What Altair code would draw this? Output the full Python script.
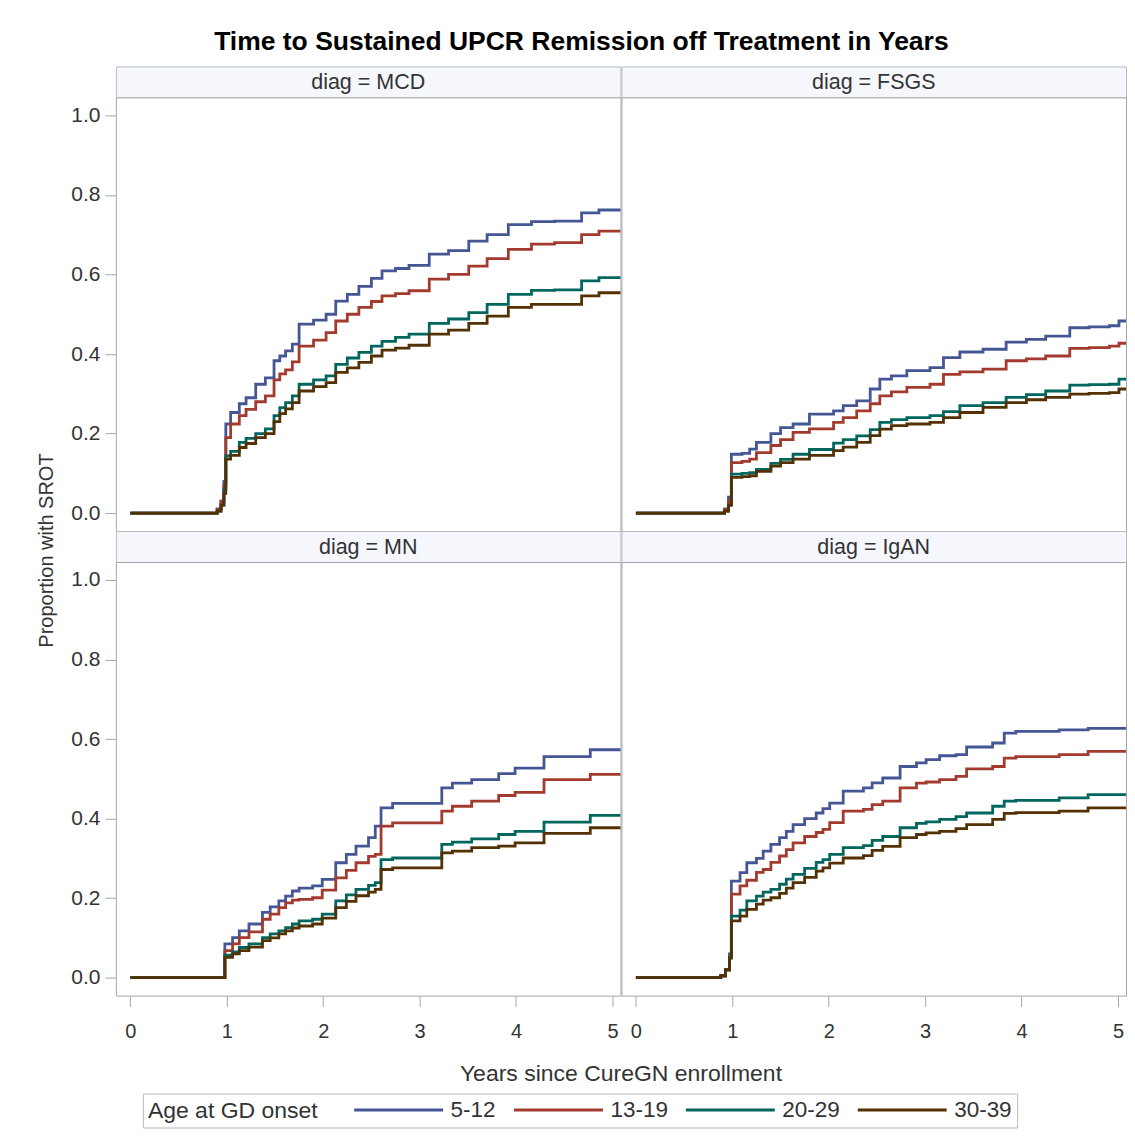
import altair as alt
import pandas as pd

GROUPS = ["5-12", "13-19", "20-29", "30-39"]
COLORS = ["#445694", "#A23A2E", "#01665E", "#543005"]

# ---- MCD ----
MCD_T = [0, 0.90, 0.94, 0.97, 0.99, 1.04, 1.13, 1.20, 1.30, 1.40, 1.49, 1.55, 1.61, 1.68, 1.75,
         1.90, 2.03, 2.13, 2.25, 2.37, 2.50, 2.61, 2.75, 2.89, 3.10, 3.30, 3.51, 3.70, 3.92, 4.16,
         4.40, 4.58, 4.68, 4.86, 5.10]
MCD_512 = [0, .01, .03, .08, .224, .253, .275, .290, .324, .340, .383, .395, .408, .425, .475,
           .485, .500, .533, .550, .570, .590, .609, .615, .623, .651, .660, .684, .700, .725, .733,
           .734, .734, .755, .762, .762]
MCD_1319 = [0, .01, .03, .07, .190, .224, .245, .261, .280, .295, .335, .350, .360, .380, .420,
            .435, .454, .483, .500, .517, .532, .546, .552, .559, .588, .600, .621, .640, .663, .676,
            .680, .680, .700, .709, .709]
MCD_2029 = [0, .005, .02, .06, .144, .155, .178, .188, .200, .212, .245, .265, .278, .295, .324,
            .335, .345, .374, .390, .404, .420, .432, .442, .450, .477, .488, .504, .525, .550, .560,
            .561, .561, .584, .592, .592]
MCD_3039 = [0, .005, .02, .05, .136, .145, .165, .175, .190, .200, .230, .250, .262, .278, .307,
            .318, .328, .354, .365, .379, .395, .410, .415, .422, .450, .460, .477, .495, .517, .525,
            .525, .525, .546, .554, .554]

# ---- FSGS ----
FSGS_T = [0, 0.92, 0.96, 0.99, 1.10, 1.18, 1.25, 1.40, 1.50, 1.63, 1.80, 2.05, 2.15, 2.29, 2.43,
          2.53, 2.65, 2.81, 3.05, 3.19, 3.36, 3.60, 3.84, 4.05, 4.25, 4.50, 4.70, 4.91, 5.01, 5.10]
FSGS_512 = [0, .01, .04, .148, .150, .161, .178, .200, .215, .224, .249, .257, .270, .282, .312,
            .337, .345, .358, .366, .391, .405, .412, .430, .437, .445, .466, .468, .471, .483, .483]
FSGS_1319 = [0, .01, .03, .127, .130, .136, .152, .170, .185, .203, .212, .228, .240, .257, .275,
             .295, .305, .316, .324, .349, .355, .362, .383, .388, .395, .414, .416, .420, .427, .427]
FSGS_2029 = [0, .005, .02, .098, .100, .102, .110, .125, .135, .148, .160, .176, .185, .194, .210,
             .228, .235, .240, .245, .255, .270, .278, .291, .298, .307, .322, .323, .324, .337, .337]
FSGS_3039 = [0, .005, .02, .090, .092, .094, .105, .118, .127, .136, .145, .157, .166, .178, .195,
             .211, .220, .224, .228, .240, .253, .266, .278, .285, .291, .299, .301, .303, .312, .312]

# ---- MN ----
MN_T = [0, 0.95, 0.98, 1.06, 1.13, 1.23, 1.37, 1.45, 1.54, 1.61, 1.68, 1.75, 1.89, 1.99, 2.13,
        2.24, 2.34, 2.47, 2.54, 2.60, 2.72, 3.23, 3.34, 3.54, 3.82, 3.99, 4.29, 4.77, 5.10]
MN_512 = [0, 0, .085, .101, .118, .135, .164, .178, .193, .205, .218, .225, .231, .247, .289,
          .310, .331, .352, .381, .427, .438, .477, .489, .498, .513, .527, .556, .573, .573]
MN_1319 = [0, 0, .068, .085, .101, .115, .147, .160, .176, .188, .195, .197, .201, .220, .251,
           .270, .289, .305, .310, .381, .389, .419, .431, .444, .458, .466, .498, .511, .511]
MN_2029 = [0, 0, .057, .065, .076, .085, .101, .110, .118, .126, .135, .143, .147, .160, .193,
           .208, .222, .232, .239, .297, .301, .335, .341, .349, .360, .368, .391, .408, .408]
MN_3039 = [0, 0, .051, .060, .068, .077, .093, .100, .110, .118, .125, .130, .135, .150, .176,
           .192, .206, .215, .222, .272, .276, .314, .318, .327, .331, .339, .363, .377, .377]

# ---- IgAN ----
IGAN_T = [0, 0.88, 0.93, 0.97, 0.99, 1.08, 1.15, 1.25, 1.32, 1.40, 1.49, 1.56, 1.63, 1.75, 1.87,
          1.94, 2.01, 2.15, 2.36, 2.45, 2.56, 2.74, 2.91, 3.01, 3.15, 3.32, 3.43, 3.70, 3.82, 3.94,
          4.39, 4.69, 5.10]
IGAN_512 = [0, .005, .02, .06, .243, .264, .289, .300, .318, .335, .352, .368, .385, .400, .414,
            .425, .439, .469, .477, .490, .502, .531, .540, .548, .558, .561, .580, .590, .615, .619,
            .623, .627, .627]
IGAN_1319 = [0, .005, .02, .05, .210, .231, .245, .265, .272, .290, .306, .322, .339, .355, .365,
             .373, .390, .419, .423, .435, .444, .477, .489, .492, .498, .506, .525, .531, .552, .556,
             .561, .569, .569]
IGAN_2029 = [0, .005, .02, .05, .155, .170, .193, .205, .215, .222, .235, .248, .260, .275, .290,
             .297, .310, .327, .332, .345, .355, .377, .388, .392, .398, .405, .414, .431, .444, .446,
             .452, .460, .460]
IGAN_3039 = [0, .005, .02, .05, .143, .155, .172, .185, .195, .201, .212, .225, .239, .252, .268,
             .276, .288, .301, .307, .320, .330, .352, .360, .364, .368, .375, .385, .398, .413, .415,
             .419, .427, .427]

X_TICKS = [0, 1, 2, 3, 4, 5]
Y_TICKS = [0.0, 0.2, 0.4, 0.6, 0.8, 1.0]

PANELS = [
    ("MCD", MCD_T, [MCD_512, MCD_1319, MCD_2029, MCD_3039]),
    ("FSGS", FSGS_T, [FSGS_512, FSGS_1319, FSGS_2029, FSGS_3039]),
    ("MN", MN_T, [MN_512, MN_1319, MN_2029, MN_3039]),
    ("IgAN", IGAN_T, [IGAN_512, IGAN_1319, IGAN_2029, IGAN_3039]),
]

rows = []
for diag, times, series in PANELS:
    for gi, (g, vals) in enumerate(zip(GROUPS, series)):
        for t, v in zip(times, vals):
            rows.append({"diag": diag, "t": t, "p": v, "age": g, "gi": gi})
df = pd.DataFrame(rows)

FONT = "Liberation Sans"
W, HP, HH = 505, 434, 31
GRAY = "#A4A8AC"
TXT = "#333333"


def header(diag):
    return (
        alt.Chart(pd.DataFrame({"label": [f"diag = {diag}"]}))
        .mark_text(font=FONT, fontSize=21.5, color=TXT, align="center", baseline="middle")
        .encode(text="label:N", x=alt.value(W / 2), y=alt.value(HH / 2 + 1))
        .properties(width=W, height=HH,
                    view=alt.ViewBackground(fill="#F5F7FC", stroke="#B8BCC0", strokeWidth=1))
    )


legend = alt.Legend(
    orient="none", legendX=27, legendY=1028, direction="horizontal",
    title="Age at GD onset", titleOrient="left", titleFont=FONT, titleFontSize=23,
    titleFontWeight="normal", titleColor=TXT, titlePadding=34, titleBaseline="middle",
    labelFont=FONT, labelFontSize=22.5, labelColor=TXT, labelOffset=75,
    symbolType="M-1,0H7.9", symbolSize=400, symbolStrokeWidth=3,
    columnPadding=11, padding=5, strokeColor="#BBBBBB", fillColor="white",
)


def panel(diag, left, bottom):
    if left:
        yax = alt.Axis(values=Y_TICKS, format=".1f", tickSize=11, tickColor=GRAY, domain=False,
                       grid=False, labelFont=FONT, labelFontSize=21, labelColor=TXT, labelPadding=5,
                       title="Proportion with SROT" if diag == "MCD" else None,
                       titleFont=FONT, titleFontSize=20, titleFontWeight="normal", titleColor=TXT,
                       titlePadding=14, titleY=453)
    else:
        yax = None
    if bottom:
        xax = alt.Axis(values=X_TICKS, format="d", tickSize=11, tickColor=GRAY, domain=False,
                       grid=False, labelFont=FONT, labelFontSize=20, labelColor=TXT, labelPadding=15,
                       labelFlush=False,
                       title="Years since CureGN enrollment" if left else None,
                       titleFont=FONT, titleFontSize=23, titleFontWeight="normal", titleColor=TXT,
                       titlePadding=21, titleX=W)
    else:
        xax = None
    return (
        alt.Chart(df)
        .transform_filter(alt.datum.diag == diag)
        .mark_line(interpolate="step-after", strokeWidth=2.8, clip=True)
        .encode(
            x=alt.X("t:Q", scale=alt.Scale(domain=[-0.15, 5.083], nice=False, zero=False), axis=xax),
            y=alt.Y("p:Q", scale=alt.Scale(domain=[-0.045, 1.045], nice=False, zero=False), axis=yax),
            color=alt.Color("age:N", scale=alt.Scale(domain=GROUPS, range=COLORS), legend=legend),
            order=alt.Order("t:Q"),
        )
        .properties(width=W, height=HP,
                    view=alt.ViewBackground(fill="white", stroke=GRAY, strokeWidth=1))
    )


chart = alt.concat(
    header("MCD"), header("FSGS"),
    panel("MCD", True, False), panel("FSGS", False, False),
    header("MN"), header("IgAN"),
    panel("MN", True, True), panel("IgAN", False, True),
    columns=2, spacing={"row": 0, "column": 1}, bounds="flush",
).properties(
    title=alt.TitleParams(
        text="Time to Sustained UPCR Remission off Treatment in Years",
        font=FONT, fontSize=26.5, fontWeight="bold", color="black",
        anchor="middle", frame="bounds", offset=10,
    ),
    padding={"left": 28, "top": 21, "right": 0, "bottom": 0},
    background="white",
)

chart.save("out.html", embed_options={"renderer": "svg", "actions": False})
